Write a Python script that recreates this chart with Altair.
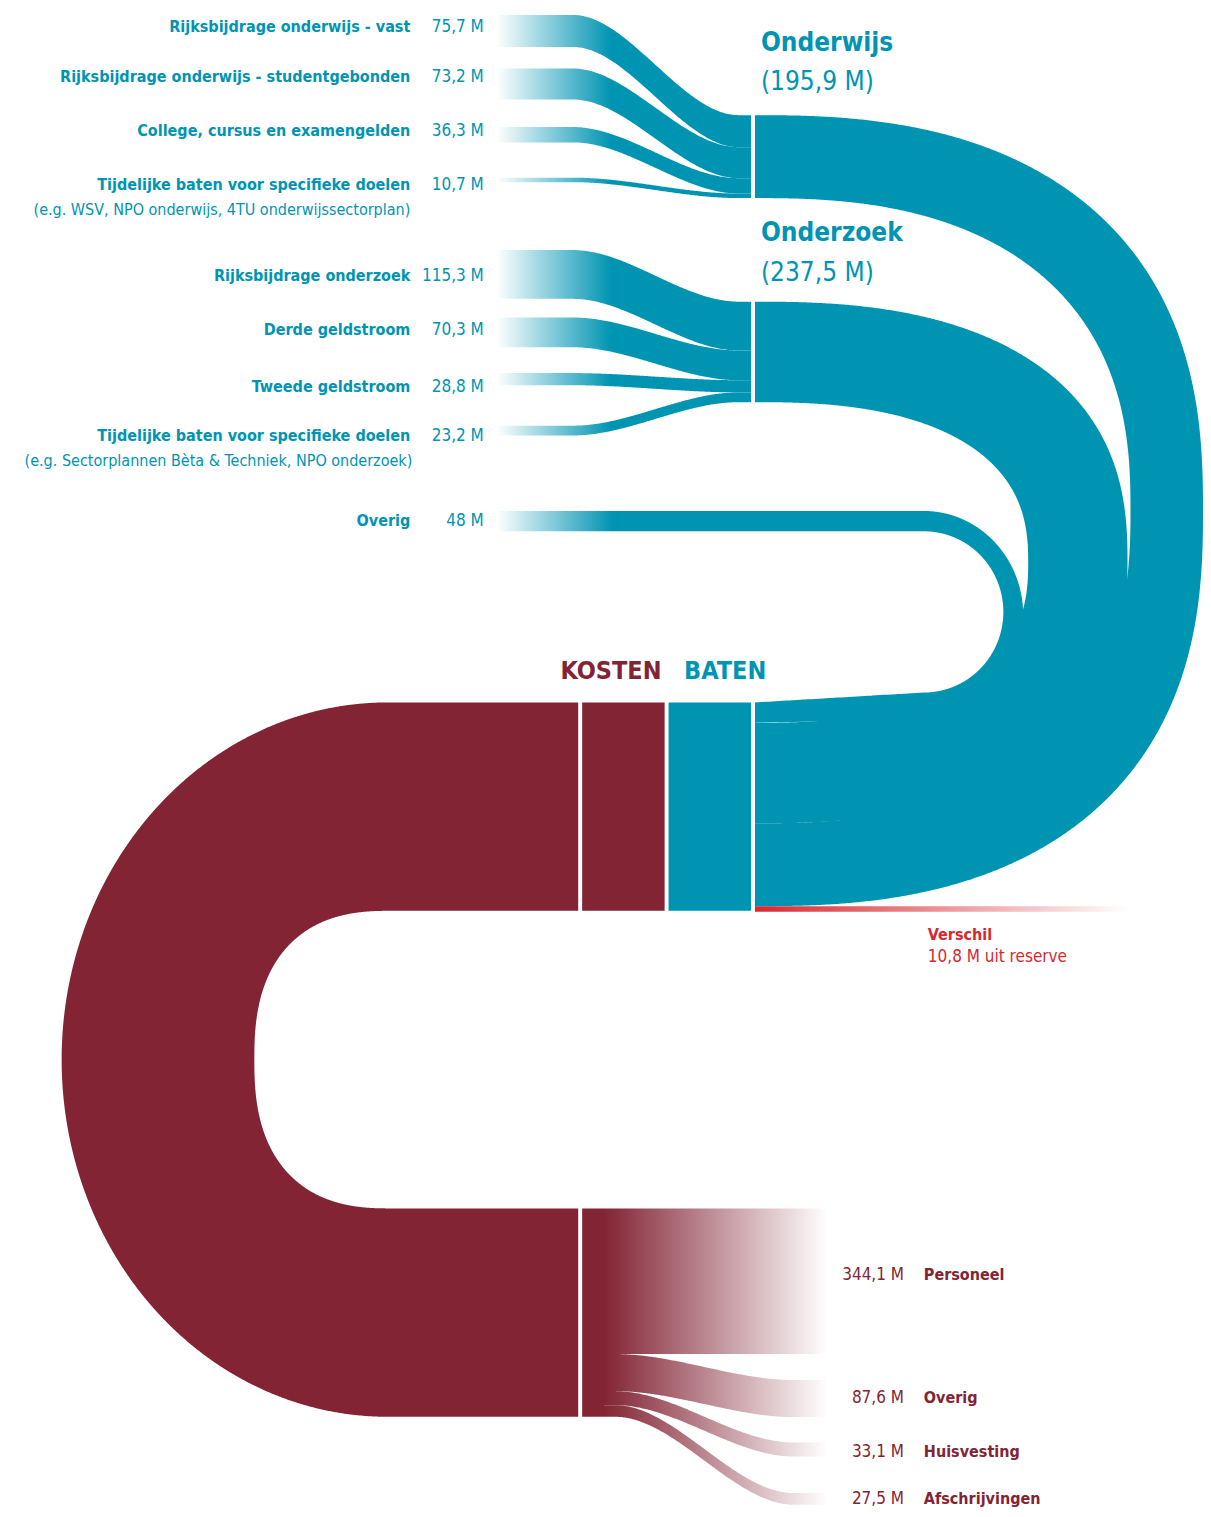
import numpy as np
import pandas as pd
import altair as alt

# ---------------- data ----------------
onderwijs_names = ["Rijksbijdrage onderwijs - vast",
                   "Rijksbijdrage onderwijs - studentgebonden",
                   "College, cursus en examengelden",
                   "Tijdelijke baten voor specifieke doelen"]
onderwijs_values = [75.7, 73.2, 36.3, 10.7]
onderwijs_labels = ["75,7  M", "73,2 M", "36,3 M", "10,7 M"]
onderwijs_note = "(e.g. WSV, NPO onderwijs, 4TU onderwijssectorplan)"

onderzoek_names = ["Rijksbijdrage onderzoek", "Derde geldstroom",
                   "Tweede geldstroom",
                   "Tijdelijke baten voor specifieke doelen"]
onderzoek_values = [115.3, 70.3, 28.8, 23.2]
onderzoek_labels = ["115,3 M", "70,3 M", "28,8 M", "23,2 M"]
onderzoek_note = "(e.g. Sectorplannen Bèta & Techniek, NPO onderzoek)"

overig_name = "Overig"
overig_value = 48.0
overig_label = "48 M"

group_names = ["Onderwijs", "Onderzoek"]
group_totals = [195.9, 237.5]
group_labels = ["(195,9 M)", "(237,5 M)"]

verschil_name = "Verschil"
verschil_value = 10.8
verschil_label = "10,8 M uit reserve"

cost_names = ["Personeel", "Overig", "Huisvesting", "Afschrijvingen"]
cost_values = [344.1, 87.6, 33.1, 27.5]
cost_labels = ["344,1 M", "87,6  M", "33,1  M", "27,5  M"]

# ---------------- style ----------------
TEAL = "#0094b3"
MAROON = "#822434"
RED = "#d8282f"
FONT = "Liberation Sans Narrow, Arial Narrow, DejaVu Sans Condensed, sans-serif"

# ---------------- layout (reference pixel space) ----------------
baten_total = sum(group_totals) + overig_value + verschil_value
K = 210.0 / baten_total          # px per million
X_SRC, X_NODE, X_BAND = 500, 756, 760
onderwijs_src_tops = [10, 64, 123, 174]
onderzoek_src_tops = [247, 315, 371, 424]
node_tops = [111, 299]
overig_top = 510
baten_top = 703
return_top = 1213
cost_target_tops = [1213, 1386, 1449, 1500]


def smooth(v):
    v = np.clip(v, 0, 1)
    return v * v * (3 - 2 * v)


def band(name, x0, x1, y0, y1, w, a, b, n=180):
    xs = np.linspace(x0, x1, n)
    u = (xs - x0) / (x1 - x0)
    s = smooth((u - a) / (b - a))
    top = y0 + (y1 - y0) * s
    return pd.DataFrame({"flow": name, "x": xs, "yt": top, "yb": top + w})


def se(y, cy, ry, rx, n):
    t = np.clip(np.abs(y - cy) / ry, 0, 1)
    return rx * (1 - t ** n) ** (1 / n)


def ysamp(pairs, extra=()):
    th = np.linspace(0, np.pi, 900)
    parts = [cy - r * np.cos(th) for cy, r in pairs]
    parts.append(np.asarray(extra, dtype=float).ravel())
    return np.unique(np.concatenate(parts))


# incoming flows
in_parts = []
for gi, (vals, tops) in enumerate([(onderwijs_values, onderwijs_src_tops),
                                   (onderzoek_values, onderzoek_src_tops)]):
    cur = node_tops[gi]
    for i, (v, t) in enumerate(zip(vals, tops)):
        w = v * K
        in_parts.append(band(f"g{gi}_{i}", X_SRC, X_NODE, t, cur, w, 0.3, 0.95))
        cur += w
in_df = pd.concat(in_parts)

# stack at baten side (x = 760)
w_ov = overig_value * K
w_oz = group_totals[1] * K
w_ow = group_totals[0] * K
w_vs = verschil_value * K
ov_b0 = baten_top
oz_b0 = ov_b0 + w_ov
ow_b0 = oz_b0 + w_oz
vs_b0 = ow_b0 + w_ow

# big U shapes (horizontal areas)
u_parts = []
specs = [("onderwijs", node_tops[0], w_ow, ow_b0, 451, 378, 2.5),
         ("onderzoek", node_tops[1], w_oz, oz_b0, 375, 275, 2.5)]
for name, top, w, b0, rxo, rxi, n in specs:
    bot = b0 + w
    cy = (top + bot) / 2
    ryo = (bot - top) / 2
    ryi = ryo - w
    ys = ysamp([(cy, ryo), (cy, ryi)])
    xl = X_BAND + se(ys, cy, ryi, rxi, n) * (np.abs(ys - cy) < ryi)
    xr = X_BAND + se(ys, cy, ryo, rxo, n)
    u_parts.append(pd.DataFrame({"shape": name, "y": ys, "xl": xl, "xr": xr}))
u_df = pd.concat(u_parts)

# overig turn (slightly sloped return)
OV_CX, OV_RXO, OV_RXI = 930, 100, 80
ov_end_i = ov_b0                 # inner edge meets x=760 here
ov_end_o = ov_b0 + w_ov          # outer edge meets x=760 here
ti = overig_top + w_ov           # inner top
bi = ov_end_i - 10               # inner bottom of arc
bo = ov_end_o - 3.5              # outer bottom of arc
cyo, ryo = (overig_top + bo) / 2, (bo - overig_top) / 2
cyi, ryi = (ti + bi) / 2, (bi - ti) / 2
extra = np.concatenate([[ti - 1e-3], np.linspace(bi, ov_end_o, 40)])
ys = ysamp([(cyo, ryo), (cyi, ryi)], extra)
ys = ys[(ys >= overig_top) & (ys <= ov_end_o)]
xl = np.where(ys < ti, X_SRC,
     np.where(ys <= bi, OV_CX + se(ys, cyi, ryi, OV_RXI, 2),
     np.where(ys <= ov_end_i, OV_CX - (ys - bi) / (ov_end_i - bi) * (OV_CX - X_BAND), X_BAND)))
xr = np.where(ys <= bo, OV_CX + se(ys, cyo, ryo, OV_RXO, 2),
              OV_CX - (ys - bo) / (ov_end_o - bo) * (OV_CX - X_BAND))
ov_df = pd.DataFrame({"shape": "overig", "y": ys, "xl": xl, "xr": xr})

# maroon U
kosten_total = sum(cost_values)
w_k = kosten_total * K
M_CXO, M_CXI, M_RXO, M_RXI, M_END = 390, 393, 328, 137, 582
top, bot = baten_top, return_top + w_k
cy = (top + bot) / 2
ryo = (bot - top) / 2
ryi = ryo - w_k
ti, bi = top + w_k, return_top
ys = ysamp([(cy, ryo), (cy, ryi)], [ti + 1e-3, bi - 1e-3])
xl = M_CXO - se(ys, cy, ryo, M_RXO, 2)
xr = np.where((ys <= ti) | (ys >= bi), M_END, M_CXI - se(ys, cy, ryi, M_RXI, 2.5))
m_df = pd.DataFrame({"shape": "kosten", "y": ys, "xl": xl, "xr": xr})

# cost flows
cost_parts = []
cur = return_top
for i, (v, t) in enumerate(zip(cost_values, cost_target_tops)):
    w = v * K
    cost_parts.append(band(f"c{i}", 608, 833, cur, t, w, 0.05, 0.85))
    cur += w
cost_df = pd.concat(cost_parts)

vs_df = band("verschil", X_BAND, 1137, vs_b0, vs_b0, w_vs + 1.0, 0, 1, n=2)

# blocks
rect_df = pd.DataFrame({
    "x": [586, 673, 586], "x2": [669, 756, 608],
    "y": [baten_top, baten_top, return_top],
    "y2": [baten_top + w_k, vs_b0 + w_vs, return_top + w_k],
    "color": [MAROON, TEAL, MAROON]})

# ---------------- scales ----------------
XS = alt.Scale(domain=[8, 1211], nice=False, zero=False)
YS = alt.Scale(domain=[3, 1515], nice=False, zero=False, reverse=True)


def grad(c0, c1, off):
    return alt.LinearGradient(gradient="linear",
                              stops=[alt.GradientStop(color=c0, offset=0),
                                     alt.GradientStop(color=c1, offset=off)],
                              x1=0, x2=1, y1=0, y2=0)


def vflows(df, fill):
    return alt.Chart(df).mark_area(orient="vertical", fill=fill, stroke=None).encode(
        x=alt.X("x:Q", scale=XS, axis=None),
        y=alt.Y("yt:Q", scale=YS, axis=None, stack=None),
        y2="yb:Q",
        detail="flow:N")


def hshape(df, fill):
    return alt.Chart(df).mark_area(orient="horizontal", fill=fill, stroke=None).encode(
        y=alt.Y("y:Q", scale=YS, axis=None),
        x=alt.X("xl:Q", scale=XS, axis=None, stack=None),
        x2="xr:Q",
        detail="shape:N")


layers = [
    hshape(u_df, TEAL),
    hshape(ov_df, grad("#ffffff", TEAL, 0.22)),
    hshape(m_df, MAROON),
    vflows(in_df, grad("#ffffff", TEAL, 0.45)),
    vflows(cost_df, grad(MAROON, "#ffffff", 1.0)),
    vflows(vs_df, grad(RED, "#ffffff", 1.0)),
    alt.Chart(rect_df).mark_rect().encode(
        x=alt.X("x:Q", scale=XS, axis=None), x2="x2:Q",
        y=alt.Y("y:Q", scale=YS, axis=None), y2="y2:Q",
        color=alt.Color("color:N", scale=None, legend=None)),
]

# ---------------- texts ----------------
label_ys_ow = [22, 73, 127, 181]
label_ys_oz = [273, 328, 385, 434]
overig_y = 520
texts = []  # x, y, text, size, color, weight, align


def T(x, y, s, size, color, weight, align):
    texts.append(dict(x=x, y=y, text=s, size=size, color=color, weight=weight, align=align))


for nm, lab, y in zip(onderwijs_names + onderzoek_names + [overig_name],
                      onderwijs_labels + onderzoek_labels + [overig_label],
                      label_ys_ow + label_ys_oz + [overig_y]):
    T(413, y, nm, 16, TEAL, "bold", "right")
    T(487, y, lab, 17, TEAL, "normal", "right")
T(413, 207, onderwijs_note, 16, TEAL, "normal", "right")
T(415, 460, onderzoek_note, 16, TEAL, "normal", "right")
for nm, lab, y0 in zip(group_names, group_labels, [38, 230]):
    T(766, y0, nm, 26, TEAL, "bold", "left")
    T(766, y0 + 40, lab, 26, TEAL, "normal", "left")
T(615, 671, "KOSTEN", 25, MAROON, "bold", "center")
T(730, 671, "BATEN", 25, TEAL, "bold", "center")
T(934, 937, verschil_name, 16, RED, "bold", "left")
T(934, 960, verschil_label, 17, RED, "normal", "left")
for nm, lab, y in zip(cost_names, cost_labels, [1280, 1404, 1459, 1506]):
    T(910, y, lab, 17, MAROON, "normal", "right")
    T(930, y, nm, 16, MAROON, "bold", "left")
tdf = pd.DataFrame(texts)

for (w, a), sub in tdf.groupby(["weight", "align"]):
    layers.append(alt.Chart(sub).mark_text(font=FONT, fontWeight=w, align=a,
                                           baseline="middle").encode(
        x=alt.X("x:Q", scale=XS, axis=None),
        y=alt.Y("y:Q", scale=YS, axis=None),
        text="text:N",
        size=alt.Size("size:Q", scale=None, legend=None),
        color=alt.Color("color:N", scale=None, legend=None)))

chart = alt.layer(*layers).properties(
    width=1195, height=1500, padding=0,
    autosize=alt.AutoSizeParams(type="none")
).configure_view(stroke=None)

chart.save("out.html", embed_options={"renderer": "svg", "actions": False})
